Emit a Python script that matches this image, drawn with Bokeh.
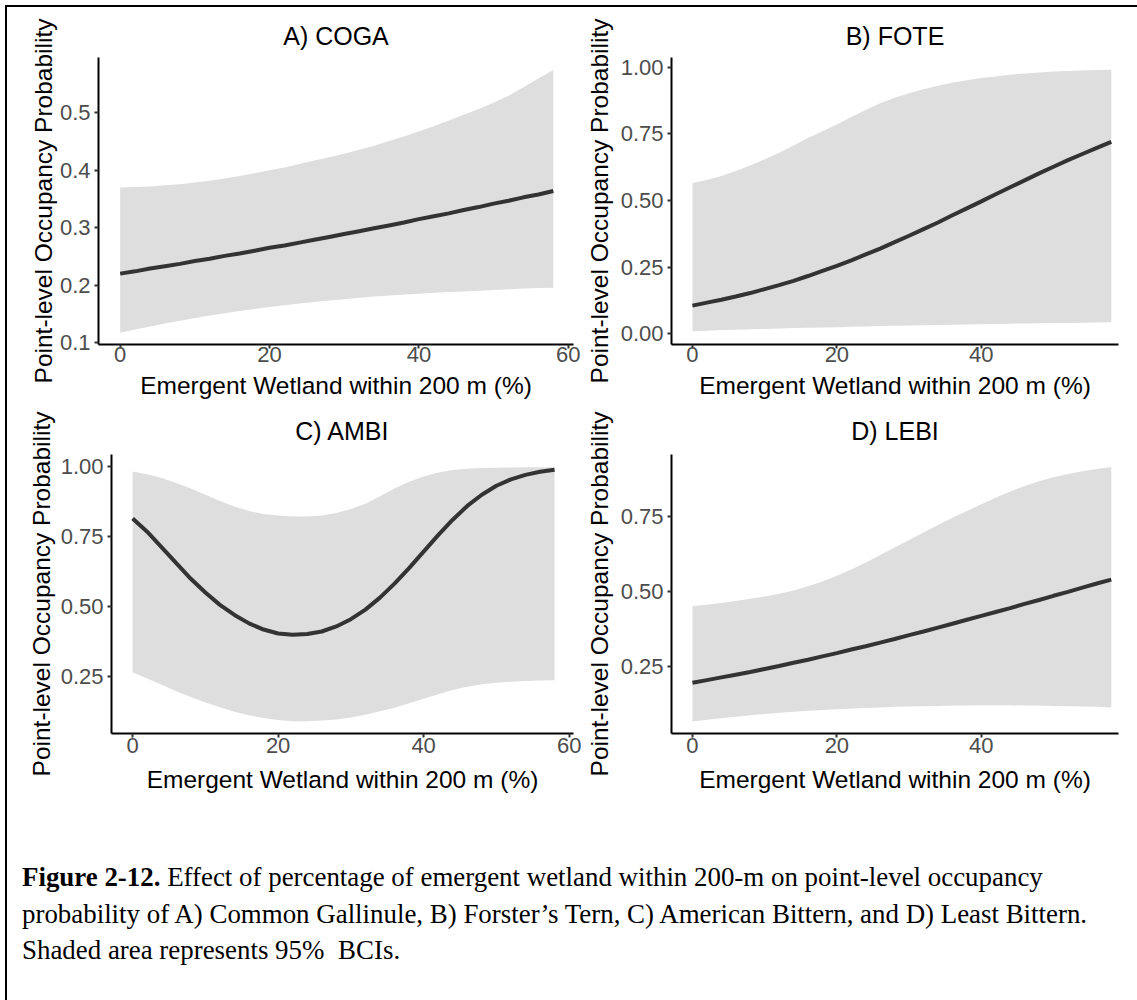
from bokeh.plotting import figure
from bokeh.layouts import column, row
from bokeh.models import Div, Range1d, FixedTicker, Spacer
from bokeh.embed import file_html
from bokeh.resources import INLINE

# ---------------- data ----------------
x_pct = [0, 2, 4, 6, 8, 10, 12, 14, 16, 18, 20, 22, 24, 26, 28,
         30, 32, 34, 36, 38, 40, 42, 44, 46, 48, 50, 52, 54, 56, 58]

coga_mean = [0.220, 0.224, 0.229, 0.233, 0.237, 0.242, 0.246, 0.251, 0.255, 0.260,
             0.265, 0.269, 0.274, 0.279, 0.284, 0.289, 0.294, 0.299, 0.304, 0.309,
             0.315, 0.320, 0.325, 0.331, 0.336, 0.342, 0.347, 0.353, 0.358, 0.364]
coga_upper = [0.370, 0.371, 0.372, 0.374, 0.376, 0.379, 0.382, 0.386, 0.390, 0.395,
              0.400, 0.405, 0.411, 0.417, 0.423, 0.429, 0.436, 0.443, 0.451, 0.459,
              0.468, 0.477, 0.487, 0.497, 0.507, 0.518, 0.530, 0.545, 0.560, 0.575]
coga_lower = [0.117, 0.1225, 0.128, 0.133, 0.138, 0.1425, 0.147, 0.151, 0.155, 0.1585,
              0.162, 0.165, 0.168, 0.1705, 0.173, 0.1755, 0.178, 0.180, 0.182, 0.1835,
              0.185, 0.1865, 0.188, 0.189, 0.190, 0.1915, 0.193, 0.194, 0.195, 0.1955]

fote_mean = [0.106, 0.117, 0.128, 0.140, 0.153, 0.168, 0.183, 0.199, 0.217, 0.236,
             0.255, 0.276, 0.298, 0.320, 0.344, 0.368, 0.393, 0.418, 0.445, 0.471,
             0.497, 0.524, 0.550, 0.576, 0.602, 0.627, 0.652, 0.675, 0.698, 0.720]
fote_upper = [0.566, 0.577, 0.592, 0.611, 0.632, 0.655, 0.680, 0.707, 0.735, 0.760,
              0.786, 0.814, 0.840, 0.865, 0.886, 0.903, 0.918, 0.931, 0.942, 0.952,
              0.960, 0.966, 0.972, 0.977, 0.981, 0.984, 0.986, 0.988, 0.990, 0.991]
fote_lower = [0.010, 0.012, 0.014, 0.0155, 0.017, 0.0185, 0.020, 0.0215, 0.023, 0.024,
              0.025, 0.0265, 0.028, 0.029, 0.030, 0.031, 0.032, 0.033, 0.034, 0.035,
              0.036, 0.037, 0.038, 0.039, 0.040, 0.0405, 0.041, 0.042, 0.043, 0.0435]

ambi_mean = [0.815, 0.768, 0.712, 0.656, 0.600, 0.551, 0.507, 0.471, 0.441, 0.419,
             0.405, 0.400, 0.403, 0.412, 0.430, 0.456, 0.490, 0.533, 0.583, 0.638,
             0.697, 0.756, 0.811, 0.860, 0.900, 0.932, 0.955, 0.971, 0.982, 0.989]
ambi_upper = [0.983, 0.973, 0.960, 0.942, 0.922, 0.900, 0.878, 0.858, 0.842, 0.831,
              0.826, 0.822, 0.822, 0.826, 0.835, 0.849, 0.868, 0.895, 0.922, 0.946,
              0.965, 0.979, 0.988, 0.993, 0.995, 0.996, 0.997, 0.998, 0.998, 0.998]
ambi_lower = [0.267, 0.244, 0.222, 0.199, 0.178, 0.159, 0.142, 0.126, 0.113, 0.103,
              0.096, 0.092, 0.092, 0.094, 0.098, 0.105, 0.115, 0.127, 0.140, 0.156,
              0.172, 0.188, 0.203, 0.215, 0.224, 0.229, 0.233, 0.235, 0.237, 0.238]

lebi_mean = [0.196, 0.205, 0.214, 0.223, 0.232, 0.242, 0.252, 0.263, 0.273, 0.284,
             0.295, 0.307, 0.318, 0.330, 0.342, 0.355, 0.367, 0.380, 0.393, 0.406,
             0.419, 0.432, 0.445, 0.459, 0.472, 0.486, 0.499, 0.513, 0.527, 0.540]
lebi_upper = [0.452, 0.456, 0.462, 0.469, 0.476, 0.484, 0.493, 0.504, 0.518, 0.534,
              0.553, 0.574, 0.597, 0.622, 0.647, 0.672, 0.697, 0.722, 0.746, 0.769,
              0.791, 0.813, 0.834, 0.852, 0.868, 0.881, 0.892, 0.901, 0.909, 0.915]
lebi_lower = [0.067, 0.0725, 0.078, 0.083, 0.088, 0.092, 0.096, 0.0995, 0.103, 0.1055,
              0.108, 0.110, 0.112, 0.114, 0.116, 0.117, 0.118, 0.119, 0.120, 0.1205,
              0.121, 0.121, 0.121, 0.1205, 0.120, 0.119, 0.118, 0.117, 0.116, 0.114]

panel_titles = ["A) COGA", "B) FOTE", "C) AMBI", "D) LEBI"]
x_ticks = [0, 20, 40, 60]
x_tick_labels = ["0", "20", "40", "60"]
yticks_a = [0.1, 0.2, 0.3, 0.4, 0.5]
ylabels_a = ["0.1", "0.2", "0.3", "0.4", "0.5"]
yticks_b = [0.0, 0.25, 0.5, 0.75, 1.0]
ylabels_b = ["0.00", "0.25", "0.50", "0.75", "1.00"]
yticks_c = [0.25, 0.5, 0.75, 1.0]
ylabels_c = ["0.25", "0.50", "0.75", "1.00"]
yticks_d = [0.25, 0.5, 0.75]
ylabels_d = ["0.25", "0.50", "0.75"]

X_LABEL = "Emergent Wetland within 200 m (%)"
Y_LABEL = "Point-level Occupancy Probability"
FONT = "Liberation Sans"


def make_panel(title, mean, lower, upper, yticks, ylabels, xr, yr,
               width, height, bl, br, bt, bb, title_standoff,
               xtick_standoff, xlab_standoff, ylab_standoff):
    p = figure(width=width, height=height,
               x_range=Range1d(*xr), y_range=Range1d(*yr),
               output_backend="svg", toolbar_location=None,
               min_border_left=bl, min_border_right=br,
               min_border_top=bt, min_border_bottom=bb)
    p.title.text = title
    p.title.text_font = FONT
    p.title.text_font_size = "25px"
    p.title.text_font_style = "normal"
    p.title.text_color = "black"
    p.title.align = "center"
    p.title.standoff = title_standoff

    p.varea(x=x_pct, y1=lower, y2=upper, fill_color="#DEDEDE", fill_alpha=1.0)
    p.line(x_pct, mean, line_color="#333333", line_width=4)

    p.grid.visible = False
    p.outline_line_color = None
    p.background_fill_color = "white"
    p.border_fill_color = "white"

    for ax in (p.xaxis[0], p.yaxis[0]):
        ax.axis_line_color = "black"
        ax.axis_line_width = 2
        ax.major_tick_line_color = "#333333"
        ax.major_tick_line_width = 2
        ax.major_tick_out = 4
        ax.major_tick_in = 0
        ax.minor_tick_line_color = None
        ax.major_label_text_font = FONT
        ax.major_label_text_font_size = "22px"
        ax.major_label_text_color = "#4D4D4D"
        ax.axis_label_text_font = FONT
        ax.axis_label_text_font_size = "24.5px"
        ax.axis_label_text_font_style = "normal"
        ax.axis_label_text_color = "black"

    p.xaxis.ticker = FixedTicker(ticks=x_ticks)
    p.xaxis.major_label_overrides = dict(zip(x_ticks, x_tick_labels))
    p.xaxis.axis_label = X_LABEL
    p.xaxis.major_label_standoff = xtick_standoff
    p.xaxis.axis_label_standoff = xlab_standoff

    p.yaxis.ticker = FixedTicker(ticks=yticks)
    p.yaxis.major_label_overrides = dict(zip(yticks, ylabels))
    p.yaxis.axis_label = Y_LABEL
    p.yaxis.major_label_standoff = 4
    p.yaxis.axis_label_standoff = ylab_standoff
    return p


pA = make_panel(panel_titles[0], coga_mean, coga_lower, coga_upper, yticks_a, ylabels_a,
                (-2.9, 60.7), (0.0965, 0.5967), 575, 397, 91, 9, 50, 60, 15, -2, 7, 0)
pB = make_panel(panel_titles[1], fote_mean, fote_lower, fote_upper, yticks_b, ylabels_b,
                (-2.9, 59.0), (-0.040, 1.037), 555, 397, 84, 19, 50, 60, 15, -2, 7, 5)
pC = make_panel(panel_titles[2], ambi_mean, ambi_lower, ambi_upper, yticks_c, ylabels_c,
                (-2.9, 60.6), (0.048, 1.0436), 575, 396, 104, 9, 42, 67, 20, 0, 10, 3)
pD = make_panel(panel_titles[3], lebi_mean, lebi_lower, lebi_upper, yticks_d, ylabels_d,
                (-2.9, 59.0), (0.027, 0.957), 555, 396, 84, 19, 41, 67, 20, 0, 10, 5)

caption_html = (
    '<div style="padding:59px 0 0 15px; font-family:\'Liberation Serif\', \'Times New Roman\', serif; '
    'font-size:26.9px; line-height:36.5px; color:black; white-space:nowrap;">'
    '<b>Figure 2-12.</b> Effect of percentage of emergent wetland within 200-m on point-level occupancy<br>'
    'probability of A) Common Gallinule, B) Forster\u2019s Tern, C) American Bittern, and D) Least Bittern.<br>'
    'Shaded area represents 95%<span style="padding-left:7px"></span> BCIs.'
    '</div>'
)
caption = Div(text=caption_html, width=1130, height=200, margin=0)

border_top = Div(text="", width=1130, height=2, margin=0, styles={"background-color": "black"})
border_left = Div(text="", width=2, height=995, margin=0, styles={"background-color": "black"})

content = column(border_top, row(pA, pB), row(pC, pD), caption)
page = column(Spacer(width=1137, height=5, margin=0),
              row(Spacer(width=5, height=995, margin=0), border_left, content))

open("out.html", "w").write(file_html(page, INLINE))
